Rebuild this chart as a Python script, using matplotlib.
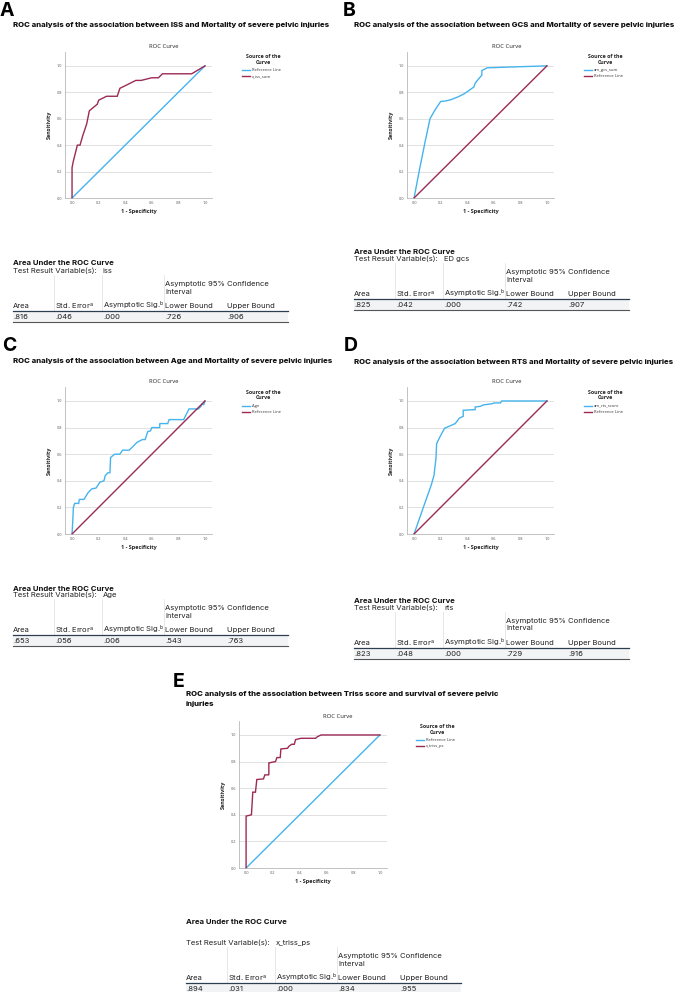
import numpy as np
import matplotlib
matplotlib.use('Agg')
import matplotlib.pyplot as plt
from matplotlib.lines import Line2D
from matplotlib.patches import Rectangle

plt.rcParams['font.family'] = ['Inter', 'DejaVu Sans']
plt.rcParams['mathtext.default'] = 'regular'

BLUE = '#45b4ee'
MAROON = '#9c2a55'

# --- curve data ---
iss_fpr = [0, 0, 0.01, 0.02, 0.04, 0.06, 0.08, 0.11, 0.13, 0.19, 0.20, 0.22, 0.26, 0.34, 0.36,
           0.40, 0.44, 0.48, 0.52, 0.56, 0.60, 0.65, 0.68, 0.90, 1.0]
iss_tpr = [0, 0.23, 0.28, 0.32, 0.40, 0.40, 0.47, 0.56, 0.66, 0.71, 0.74, 0.75, 0.77, 0.77, 0.83,
           0.85, 0.87, 0.89, 0.89, 0.90, 0.91, 0.91, 0.94, 0.94, 1.0]

gcs_fpr = [0, 0.04, 0.08, 0.12, 0.16, 0.20, 0.24, 0.28, 0.33, 0.38, 0.45, 0.46, 0.51, 0.51,
           0.55, 0.68, 1.0]
gcs_tpr = [0, 0.21, 0.41, 0.60, 0.67, 0.73, 0.735, 0.745, 0.765, 0.79, 0.84, 0.87, 0.93, 0.965,
           0.985, 0.99, 1.0]

age_fpr = [0, 0.005, 0.01, 0.02, 0.05, 0.055, 0.09, 0.12, 0.15, 0.18, 0.21, 0.24, 0.25, 0.27,
           0.285, 0.29, 0.32, 0.36, 0.38, 0.43, 0.46, 0.49, 0.53, 0.55, 0.57, 0.59, 0.60, 0.66,
           0.66, 0.72, 0.73, 0.84, 0.87, 0.88, 0.95, 0.97, 0.98, 0.99, 1.0]
age_tpr = [0, 0.09, 0.20, 0.23, 0.23, 0.26, 0.26, 0.31, 0.34, 0.345, 0.39, 0.40, 0.44, 0.46,
           0.46, 0.575, 0.60, 0.60, 0.63, 0.63, 0.66, 0.69, 0.71, 0.71, 0.77, 0.775, 0.80, 0.80,
           0.83, 0.83, 0.86, 0.86, 0.92, 0.94, 0.94, 0.96, 0.98, 0.97, 1.0]

rts_fpr = [0, 0.07, 0.13, 0.15, 0.165, 0.17, 0.20, 0.23, 0.31, 0.34, 0.37, 0.37, 0.46, 0.46,
           0.50, 0.52, 0.59, 0.60, 0.65, 0.66, 1.0]
rts_tpr = [0, 0.20, 0.37, 0.44, 0.57, 0.68, 0.74, 0.795, 0.83, 0.87, 0.885, 0.93, 0.935, 0.955,
           0.96, 0.97, 0.98, 0.985, 0.985, 1.0, 1.0]

triss_fpr = [0, 0, 0.04, 0.05, 0.07, 0.08, 0.13, 0.14, 0.17, 0.17, 0.22, 0.23, 0.255, 0.26,
             0.31, 0.32, 0.34, 0.36, 0.37, 0.41, 0.52, 0.53, 0.56, 1.0]
triss_tpr = [0, 0.39, 0.40, 0.57, 0.57, 0.665, 0.67, 0.70, 0.70, 0.79, 0.80, 0.83, 0.83, 0.895,
             0.90, 0.915, 0.93, 0.93, 0.965, 0.975, 0.975, 0.985, 1.0, 1.0]

ref_line = [0, 1]

# --- AUC tables ---
auc_cols = ['Area', 'Std. Error$^{a}$', 'Asymptotic Sig.$^{b}$', 'Lower Bound', 'Upper Bound']
auc_iss = ['.816', '.046', '.000', '.726', '.906']
auc_gcs = ['.825', '.042', '.000', '.742', '.907']
auc_age = ['.653', '.056', '.006', '.543', '.763']
auc_rts = ['.823', '.048', '.000', '.729', '.916']
auc_triss = ['.894', '.031', '.000', '.834', '.955']

titles = [
    'ROC analysis of the association between ISS and Mortality of severe pelvic injuries',
    'ROC analysis of the association between GCS and Mortality of severe pelvic injuries',
    'ROC analysis of the association between Age and Mortality of severe pelvic injuries',
    'ROC analysis of the association between RTS and Mortality of severe pelvic injuries',
    'ROC analysis of the association between Triss score and survival of severe pelvic\ninjuries',
]

W, H = 680, 992
fig = plt.figure(figsize=(W / 100, H / 100), dpi=100)


def fx(p):
    return p / W


def fy(p):
    return 1 - p / H


def hline(x0, x1, y, color, lw):
    fig.add_artist(Line2D([fx(x0), fx(x1)], [fy(y), fy(y)], transform=fig.transFigure,
                          color=color, lw=lw))


def vline(x, y0, y1, color, lw):
    fig.add_artist(Line2D([fx(x), fx(x)], [fy(y0), fy(y1)], transform=fig.transFigure,
                          color=color, lw=lw))


def roc_panel(left, right, top, bottom, curves, leg_cx, leg_y, title_cx):
    ax = fig.add_axes([fx(left), fy(bottom), (right - left) / W, (bottom - top) / H])
    for xs, ys, col, lab in curves:
        ax.plot(xs, ys, color=col, lw=1.0, clip_on=False, solid_joinstyle='miter')
    ax.set_xlim(-0.053, 1.053)
    ax.set_ylim(0, 1.105)
    ax.set_xticks(np.arange(0, 1.01, 0.2))
    ax.set_yticks(np.arange(0, 1.01, 0.2))
    ax.set_xticklabels(['0.0', '0.2', '0.4', '0.6', '0.8', '1.0'])
    ax.set_yticklabels(['0.0', '0.2', '0.4', '0.6', '0.8', '1.0'])
    ax.tick_params(length=0, labelsize=2.8, colors='#555555', pad=2)
    for lab in ax.get_xticklabels() + ax.get_yticklabels():
        lab.set_family('Open Sans')
    ax.yaxis.grid(True, color='#d4d4d4', lw=0.5)
    ax.set_axisbelow(True)
    for s in ['top', 'right']:
        ax.spines[s].set_visible(False)
    for s in ['left', 'bottom']:
        ax.spines[s].set_color('#aaaaaa')
        ax.spines[s].set_linewidth(0.5)
    mid_x = (left + right) / 2
    mid_y = (top + bottom) / 2
    fig.text(fx(title_cx), fy(top - 5), 'ROC Curve', ha='center', va='center',
             fontsize=4.2, family='Open Sans', color='#222222')
    fig.text(fx(mid_x), fy(bottom + 14), '1 - Specificity', ha='center', va='center',
             fontsize=4.0, family='Open Sans', weight='bold', color='#222222')
    fig.text(fx(left - 16), fy(mid_y), 'Sensitivity', ha='center', va='center', rotation=90,
             fontsize=4.0, family='Open Sans', weight='bold', color='#222222')
    # legend
    fig.text(fx(leg_cx), fy(leg_y), 'Source of the', ha='center', va='center',
             fontsize=3.8, family='Open Sans', weight='bold', color='#222222')
    fig.text(fx(leg_cx), fy(leg_y + 6), 'Curve', ha='center', va='center',
             fontsize=3.8, family='Open Sans', weight='bold', color='#222222')
    for i, (xs, ys, col, lab) in enumerate(curves):
        yy = leg_y + 14 + 6 * i
        hline(leg_cx - 21, leg_cx - 13, yy, col, 1.0)
        fig.text(fx(leg_cx - 11), fy(yy), lab, ha='left', va='center',
                 fontsize=3.0, family='Open Sans', color='#333333')
    return ax


def auc_table(x0, ytop, var, vals, gap=7):
    col_off = [0, 42, 90, 152, 214]
    end = x0 + 275
    fs = 5.5
    fig.text(fx(x0), fy(ytop), 'Area Under the ROC Curve', ha='left', va='center',
             fontsize=5.6, weight='bold', color='#111111')
    y_var = ytop + gap
    fig.text(fx(x0), fy(y_var), 'Test Result Variable(s):', ha='left', va='center',
             fontsize=fs, color='#222222')
    fig.text(fx(x0 + col_off[2]), fy(y_var), var, ha='left', va='center',
             fontsize=fs, color='#222222')
    y_ci1 = y_var + 13
    y_hdr = y_var + 35
    y_ln = y_hdr + 5
    y_val = y_ln + 6
    y_bot = y_ln + 11
    fig.text(fx(x0 + col_off[3]), fy(y_ci1), 'Asymptotic 95% Confidence', ha='left',
             va='center', fontsize=fs, color='#222222')
    fig.text(fx(x0 + col_off[3]), fy(y_ci1 + 7.5), 'Interval', ha='left', va='center',
             fontsize=fs, color='#222222')
    for k in range(1, 4):
        vline(x0 + col_off[k] - 1, y_var + 4, y_ln, '#dddddd', 0.5)
    fig.add_artist(Rectangle((fx(x0), fy(y_bot)), (end - x0) / W, (y_bot - y_ln) / H,
                             transform=fig.transFigure, color='#f2f3f5', lw=0, zorder=0))
    for k, c in enumerate(auc_cols):
        fig.text(fx(x0 + col_off[k]), fy(y_hdr), c, ha='left', va='center',
                 fontsize=fs, color='#222222')
        fig.text(fx(x0 + col_off[k]), fy(y_val), vals[k], ha='left', va='center',
                 fontsize=fs, color='#222222')
    hline(x0, end, y_ln, '#2c3e50', 0.9)
    hline(x0, end, y_bot, '#555555', 0.8)


def panel_title(x, y, letter, lx, base, text):
    fig.text(fx(lx), fy(base), letter, ha='left', va='baseline', fontsize=14, weight='bold',
             color='black')
    fig.text(fx(x), fy(y), text, ha='left', va='top', fontsize=5.6, weight='heavy',
             color='#111111', linespacing=1.75)


# A
panel_title(13, 22, 'A', 0, 16, titles[0])
roc_panel(65, 212, 52, 198,
          [(ref_line, ref_line, BLUE, 'Reference Line'),
           (iss_fpr, iss_tpr, MAROON, 'x_iss_sum')], 263, 56, 164)
auc_table(13, 263, 'iss', auc_iss, gap=8)

# B
panel_title(354, 22, 'B', 343, 16, titles[1])
roc_panel(407, 554, 52, 198,
          [(gcs_fpr, gcs_tpr, BLUE, 'am_gcs_sum'),
           (ref_line, ref_line, MAROON, 'Reference Line')], 605, 56, 507)
auc_table(354, 252, 'ED gcs', auc_gcs)

# C
panel_title(13, 358, 'C', 2, 351, titles[2])
roc_panel(65, 212, 387, 534,
          [(age_fpr, age_tpr, BLUE, 'Age'),
           (ref_line, ref_line, MAROON, 'Reference Line')], 263, 392, 164)
auc_table(13, 589, 'Age', auc_age, gap=6)

# D
panel_title(354, 359, 'D', 344, 351, titles[3])
roc_panel(407, 554, 387, 534,
          [(rts_fpr, rts_tpr, BLUE, 'am_rts_score'),
           (ref_line, ref_line, MAROON, 'Reference Line')], 605, 392, 507)
auc_table(354, 601, 'rts', auc_rts, gap=7)

# E
panel_title(186, 691, 'E', 173, 687, titles[4])
roc_panel(239, 387, 721, 868,
          [(ref_line, ref_line, BLUE, 'Reference Line'),
           (triss_fpr, triss_tpr, MAROON, 'x_triss_ps')], 437, 726, 338)
auc_table(186, 922, 'x_triss_ps', auc_triss, gap=21)

fig.savefig('out.png', dpi=100, facecolor='white')
